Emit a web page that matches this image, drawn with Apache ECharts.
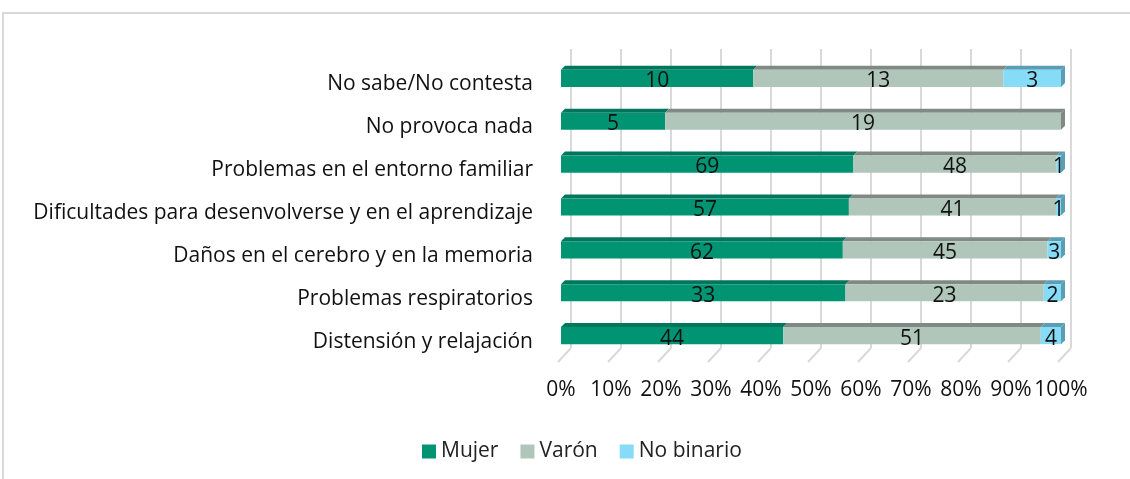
<!DOCTYPE html>
<html>
<head>
<meta charset="utf-8">
<script src="https://cdn.jsdelivr.net/npm/echarts@6/dist/echarts.min.js"></script>
<style>
  html, body { margin: 0; padding: 0; background: #fff; }
  #main { width: 1130px; height: 479px; }
</style>
</head>
<body>
<div id="main"></div>
<script>
// categorias (de arriba a abajo) y respuestas por sexo
var categorias = ['No sabe/No contesta', 'No provoca nada', 'Problemas en el entorno familiar',
  'Dificultades para desenvolverse y en el aprendizaje', 'Daños en el cerebro y en la memoria',
  'Problemas respiratorios', 'Distensión y relajación'];
var mujer = [10, 5, 69, 57, 62, 33, 44];
var varon = [13, 19, 48, 41, 45, 23, 51];
var noBinario = [3, 0, 1, 1, 3, 2, 4];
var ticks = [0, 10, 20, 30, 40, 50, 60, 70, 80, 90, 100];

var nombres = ['Mujer', 'Varón', 'No binario'];
var colores = ['#009473', '#b0c6ba', '#86dbf6'];
var oscuros = ['#00765c', '#7f8a84', '#5b9db5'];
var series_vals = [mujer, varon, noBinario];

var fuente = '"Open Sans", "Noto Sans", sans-serif';

// segmentos [inicio%, fin%, categoria, valor]
function segmentos(k) {
  var res = [];
  for (var i = 0; i < categorias.length; i++) {
    var total = mujer[i] + varon[i] + noBinario[i];
    var antes = 0;
    for (var j = 0; j < k; j++) antes += series_vals[j][i];
    var v = series_vals[k][i];
    if (v == 0) continue;
    res.push([antes / total * 100, (antes + v) / total * 100, i, v]);
  }
  return res;
}

function render3d(k) {
  return function (params, api) {
    var s = api.value(0), e = api.value(1), c = api.value(2), v = api.value(3);
    var p0 = api.coord([s, c]);
    var p1 = api.coord([e, c]);
    var h = api.size([0, 1])[1] * 0.4;
    var y0 = p0[1] - h / 2;
    var d = 4;
    var hijos = [
      { type: 'polygon', shape: { points: [[p0[0], y0], [p0[0] + d, y0 - d], [p1[0] + d, y0 - d], [p1[0], y0]] },
        style: { fill: oscuros[k] } },
      { type: 'rect', shape: { x: p0[0], y: y0, width: p1[0] - p0[0], height: h },
        style: { fill: colores[k] } }
    ];
    if (e > 99.99) {
      hijos.push({ type: 'polygon',
        shape: { points: [[p1[0], y0], [p1[0] + d, y0 - d], [p1[0] + d, y0 + h - d], [p1[0], y0 + h]] },
        style: { fill: oscuros[k] } });
    }
    hijos.push({ type: 'text', x: (p0[0] + p1[0]) / 2, y: p0[1] + 3,
      style: { text: String(v), fill: '#111', font: '21px ' + fuente, align: 'center', verticalAlign: 'middle' } });
    return { type: 'group', children: hijos };
  };
}

var series = [];
for (var k = 0; k < 3; k++) {
  series.push({
    name: nombres[k],
    type: 'custom',
    xAxisIndex: 1,
    yAxisIndex: 1,
    itemStyle: { color: colores[k] },
    renderItem: render3d(k),
    encode: { x: [0, 1], y: 2 },
    data: segmentos(k),
    z: 3
  });
}

// lineas del suelo (perspectiva)
series.push({
  type: 'custom',
  xAxisIndex: 0,
  yAxisIndex: 0,
  silent: true,
  renderItem: function (params, api) {
    var p = api.coord([api.value(0), 0]);
    return { type: 'line', shape: { x1: p[0], y1: p[1], x2: p[0] - 13, y2: p[1] + 14 },
      style: { stroke: '#d9d9d9', lineWidth: 2 } };
  },
  data: ticks.map(function (t) { return [t]; }),
  z: 1
});

var option = {
  animation: false,
  backgroundColor: '#fff',
  graphic: [{
    type: 'rect', shape: { x: 3, y: 13, width: 1200, height: 600 },
    style: { fill: 'none', stroke: '#d9d9d9', lineWidth: 2 }, z: -10
  }],
  legend: {
    data: nombres,
    top: 436,
    left: 417,
    icon: 'rect',
    itemWidth: 14,
    itemHeight: 14,
    itemGap: 22,
    textStyle: { fontSize: 21, fontFamily: fuente, color: '#222' }
  },
  grid: [
    { left: 571, width: 500, top: 49, height: 299 },
    { left: 561, width: 500, top: 57, height: 300 }
  ],
  xAxis: [
    { type: 'value', gridIndex: 0, min: 0, max: 100, interval: 10,
      axisLine: { show: false }, axisTick: { show: false }, axisLabel: { show: false },
      splitLine: { lineStyle: { color: '#d9d9d9', width: 2 } } },
    { type: 'value', gridIndex: 1, min: 0, max: 100, interval: 10,
      axisLine: { show: false }, axisTick: { show: false }, splitLine: { show: false },
      axisLabel: { formatter: '{value}%', fontSize: 21, fontFamily: fuente, color: '#111', margin: 23 } }
  ],
  yAxis: [
    { type: 'value', gridIndex: 0, min: 0, max: 1, show: false },
    { type: 'category', gridIndex: 1, data: categorias, inverse: true,
      axisLine: { show: false }, axisTick: { show: false },
      axisLabel: { fontSize: 21, fontFamily: fuente, color: '#111', margin: 28,
        verticalAlign: 'top', lineHeight: 12 } }
  ],
  series: series
};

var myChart = echarts.init(document.getElementById('main'));
myChart.setOption(option);
</script>
</body>
</html>
